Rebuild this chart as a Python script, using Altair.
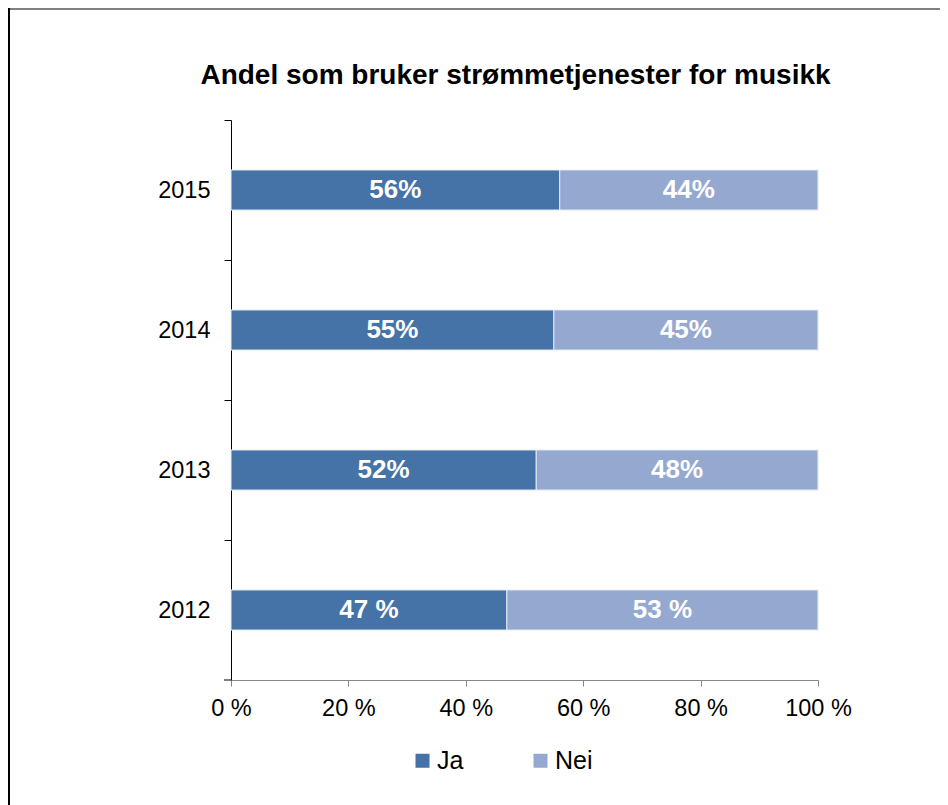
import altair as alt
import pandas as pd

years = ["2015", "2014", "2013", "2012"]
ja = [56, 55, 52, 47]
nei = [44, 45, 48, 53]
ja_labels = ["56%", "55%", "52%", "47 %"]
nei_labels = ["44%", "45%", "48%", "53 %"]
series = ["Ja", "Nei"]
colors = ["#4572a7", "#95a9d0"]
x_ticks = [0, 20, 40, 60, 80, 100]
title_text = "Andel som bruker strømmetjenester for musikk"

rows = []
for i, y in enumerate(years):
    rows.append({"year": y, "series": "Ja", "value": ja[i], "label": ja_labels[i], "ord": 0})
    rows.append({"year": y, "series": "Nei", "value": nei[i], "label": nei_labels[i], "ord": 1})
df = pd.DataFrame(rows)

FONT = "Liberation Sans"
W, H = 587, 560
STEP = H / len(years)
PAD_B = 133

base = alt.Chart(df).transform_stack(
    stack="value", groupby=["year"], as_=["x0", "x1"], sort=[alt.SortField("ord", order="ascending")]
).transform_calculate(mid="(datum.x0 + datum.x1) / 2")

yenc = alt.Y(
    "year:N",
    sort=years,
    title=None,
    scale=alt.Scale(paddingInner=0.714, paddingOuter=0.357),
    axis=alt.Axis(
        domainColor="#000000",
        tickColor="#000000",
        tickSize=7,
        tickOffset=-STEP / 2,
        labelOffset=STEP / 2,
        labelPadding=14,
        labelFontSize=23.5,
        labelColor="#000000",
        labelFont=FONT,
        grid=False,
    ),
)

bars = base.mark_bar(stroke="#e4eaf3", strokeWidth=1).encode(
    y=yenc,
    x=alt.X(
        "x0:Q",
        scale=alt.Scale(domain=[0, 100], nice=False),
        title=None,
        axis=alt.Axis(
            values=x_ticks,
            labelExpr="datum.value + ' %'",
            labelFlush=False,
            domainColor="#868686",
            tickColor="#868686",
            tickSize=6,
            labelPadding=10,
            labelFontSize=23.5,
            labelColor="#000000",
            labelFont=FONT,
            grid=False,
        ),
    ),
    x2="x1:Q",
    color=alt.Color(
        "series:N",
        scale=alt.Scale(domain=series, range=colors),
        legend=alt.Legend(
            title=None,
            orient="none",
            direction="horizontal",
            legendX=179,
            legendY=628,
            symbolType="square",
            symbolSize=196,
            symbolStrokeWidth=0,
            labelFontSize=25,
            labelFont=FONT,
            labelColor="#000000",
            labelOffset=2,
            columnPadding=64,
            padding=0,
        ),
    ),
)

text = base.mark_text(
    color="white", fontWeight="bold", fontSize=26, font=FONT, baseline="middle", align="center"
).encode(
    y=alt.Y("year:N", sort=years),
    x=alt.X("mid:Q"),
    text="label:N",
)

one = alt.Chart(pd.DataFrame({"t": [title_text]}))
title_mark = one.mark_text(
    fontSize=28, fontWeight="bold", font=FONT, color="#000000", align="center", baseline="alphabetic"
).encode(x=alt.value(284.5), y=alt.value(-36), text="t:N")

bottom_tick = one.mark_rule(color="#000000", strokeWidth=1).encode(
    x=alt.value(-7), x2=alt.value(0), y=alt.value(H)
)
top_border = one.mark_rule(color="#808080", strokeWidth=2).encode(
    x=alt.value(-223), x2=alt.value(720), y=alt.value(-111)
)
left_border = one.mark_rule(color="#000000", strokeWidth=2).encode(
    x=alt.value(-222), y=alt.value(-112), y2=alt.value(H + PAD_B)
)

chart = alt.layer(bars, text, title_mark, bottom_tick, top_border, left_border).properties(
    width=W,
    height=H,
    autosize=alt.AutoSizeParams(type="none"),
    padding={"left": 223, "top": 112, "right": 122, "bottom": PAD_B},
).configure(background="transparent").configure_view(stroke=None)

chart.save("out.html", embed_options={"renderer": "svg", "actions": False})
